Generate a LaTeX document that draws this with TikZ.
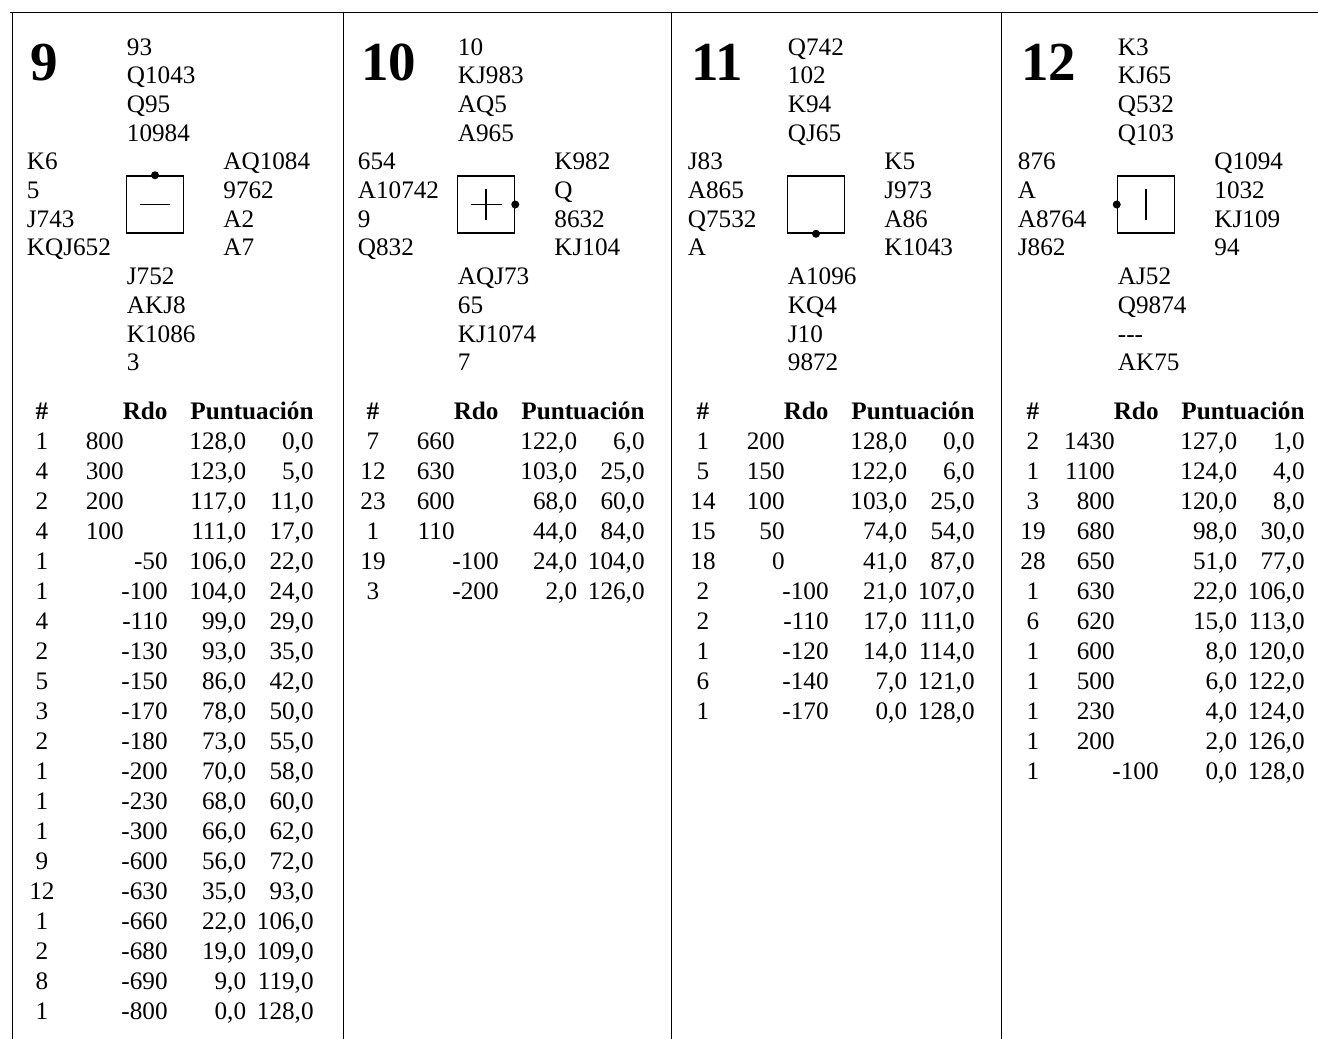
\documentclass[tikz,border=0pt]{standalone}
\usepackage{fontspec}
\setmainfont{Liberation Serif}

\tikzset{
  card/.style={anchor=base west, inner sep=0pt, font=\fontsize{12.6}{14}\selectfont},
  cell/.style={anchor=base east, inner sep=0pt, font=\fontsize{12.6}{14}\selectfont},
  head/.style={cell, font=\fontsize{12.6}{14}\selectfont\bfseries},
  bignum/.style={anchor=base west, inner sep=0pt, font=\fontsize{27.5}{30}\selectfont\bfseries},
  seat/.style={draw, line width=0.75pt, minimum size=28.5pt, inner sep=0pt},
  rule/.style={line width=0.5pt}
}

\begin{document}
\begin{tikzpicture}[x=0.5pt,y=-0.5pt]
    \useasboundingbox (0,0) rectangle (1318,1039);
    \draw[rule] (10,12)--(1318,12);
    \foreach \x in {12,343,671,1001}
      \draw[rule] (\x,12)--(\x,1039);

    \newcommand\hand{}
    \def\hand#1#2#3#4{%
      \foreach \c [count=\i] in {#4}
        \node[card] (#1-\i) at (#2, #3+28.7*\i-28.7) {\c};
    }

    \newcommand\deal{}
    \def\deal#1#2#3#4#5#6{%
      \node[bignum] (b#1) at (#2+18, 80) {#1};
      \hand{n#1}{#2+114.5}{55}{#3}
      \hand{w#1}{#2+14.5}{169.8}{#4}
      \hand{e#1}{#2+211}{169.8}{#5}
      \hand{s#1}{#2+114.5}{284.6}{#6}
      \node[seat] (t#1) at (#2+143, 204.5) {};
    }

    \newcommand\results{}
    \def\results#1#2#3{%
      \node[head, anchor=base] (h#1-n) at (#2+30, 419) {\#};
      \node[head] (h#1-r) at (#2+156, 419) {Rdo};
      \node[head] (h#1-p) at (#2+302, 419) {Puntuación};
      \foreach \n/\r/\a/\b [count=\i] in {#3}{
        \node[cell, anchor=base] (r#1-\i-n) at (#2+30, 419+30*\i) {\n};
        \ifnum\r<0
          \node[cell] (r#1-\i-r) at (#2+156, 419+30*\i) {\r};
        \else
          \node[cell] (r#1-\i-r) at (#2+112, 419+30*\i) {\r};
        \fi
        \node[cell] (r#1-\i-a) at (#2+234.5, 419+30*\i) {\a,0};
        \node[cell] (r#1-\i-b) at (#2+302, 419+30*\i) {\b,0};
      }
    }

    \deal{9}{12}{93,Q1043,Q95,10984}{K6,5,J743,KQJ652}{AQ1084,9762,A2,A7}{J752,AKJ8,K1086,3}
    \deal{10}{343}{10,KJ983,AQ5,A965}{654,A10742,9,Q832}{K982,Q,8632,KJ104}{AQJ73,65,KJ1074,7}
    \deal{11}{673}{Q742,102,K94,QJ65}{J83,A865,Q7532,A}{K5,J973,A86,K1043}{A1096,KQ4,J10,9872}
    \deal{12}{1003}{K3,KJ65,Q532,Q103}{876,A,A8764,J862}{Q1094,1032,KJ109,94}{AJ52,Q9874,-\kern0pt-\kern0pt-,AK75}

    % dealer dot and vulnerability mark
    \fill (t9.north) circle (2pt);
    \draw[line width=0.75pt] ([xshift=-7.5pt]t9.center)--([xshift=7.5pt]t9.center);
    \fill (t10.east) circle (2pt);
    \draw[line width=0.75pt] ([xshift=-7.75pt]t10.center)--([xshift=7.75pt]t10.center);
    \draw[line width=0.75pt] ([yshift=-7.75pt]t10.center)--([yshift=7.75pt]t10.center);
    \fill (t11.south) circle (2pt);
    \fill (t12.west) circle (2pt);
    \draw[line width=0.75pt] ([yshift=-7.75pt]t12.center)--([yshift=7.75pt]t12.center);

    \results{9}{12}{1/800/128/0, 4/300/123/5, 2/200/117/11, 4/100/111/17,
      1/-50/106/22, 1/-100/104/24, 4/-110/99/29, 2/-130/93/35, 5/-150/86/42,
      3/-170/78/50, 2/-180/73/55, 1/-200/70/58, 1/-230/68/60, 1/-300/66/62,
      9/-600/56/72, 12/-630/35/93, 1/-660/22/106, 2/-680/19/109, 8/-690/9/119,
      1/-800/0/128}
    \results{10}{343}{7/660/122/6, 12/630/103/25, 23/600/68/60, 1/110/44/84,
      19/-100/24/104, 3/-200/2/126}
    \results{11}{673}{1/200/128/0, 5/150/122/6, 14/100/103/25, 15/50/74/54,
      18/0/41/87, 2/-100/21/107, 2/-110/17/111, 1/-120/14/114, 6/-140/7/121,
      1/-170/0/128}
    \results{12}{1003}{2/1430/127/1, 1/1100/124/4, 3/800/120/8, 19/680/98/30,
      28/650/51/77, 1/630/22/106, 6/620/15/113, 1/600/8/120, 1/500/6/122,
      1/230/4/124, 1/200/2/126, 1/-100/0/128}

  \end{tikzpicture}
\end{document}
